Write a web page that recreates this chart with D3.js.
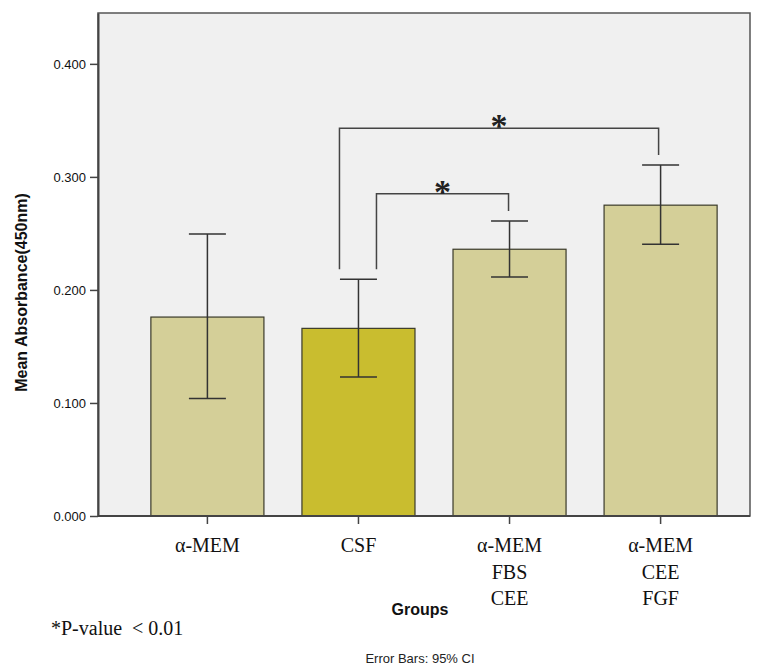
<!DOCTYPE html>
<html>
<head>
<meta charset="utf-8">
<script src="https://cdn.jsdelivr.net/npm/d3@7"></script>
<style>
  body { margin: 0; background: #fff; }
  svg { display: block; }
</style>
</head>
<body>
<svg id="chart"></svg>
<script>
// values
const groups = ['a-MEM', 'CSF', 'a-MEM FBS CEE', 'a-MEM CEE FGF']
const groupLabels = [['α-MEM'], ['CSF'], ['α-MEM', 'FBS', 'CEE'], ['α-MEM', 'CEE', 'FGF']]
const means = [0.176, 0.166, 0.236, 0.275]
const ciLow = [0.104, 0.123, 0.2115, 0.2405]
const ciHigh = [0.2495, 0.2095, 0.261, 0.3105]
const yTicks = [0, 0.1, 0.2, 0.3, 0.4]
// significance brackets: [from group, to group, bracket level]
const brackets = [
  ['CSF', 'a-MEM CEE FGF', 0.343],
  ['CSF', 'a-MEM FBS CEE', 0.285],
]

const W = 758, H = 665
const margin = { top: 13, right: 8, bottom: 149, left: 98 }
const width = W - margin.left - margin.right
const height = H - margin.top - margin.bottom

const svg = d3.select('#chart').attr('width', W).attr('height', H)

const g = svg.append('g')
  .attr('transform', 'translate(' + margin.left + ',' + margin.top + ')')

const x = d3.scaleBand()
  .domain(groups)
  .range([34, 638])
  .paddingInner(0.2517)
  .paddingOuter(0.125)

const y = d3.scaleLinear().domain([0, 0.445]).range([height, 0])

// plot background + frame
g.append('rect')
  .attr('width', width)
  .attr('height', height)
  .attr('fill', '#f0f0f0')
  .attr('stroke', '#555')
  .attr('stroke-width', 1.5)

// bars
g.selectAll('.bar')
  .data(groups)
  .enter()
  .append('rect')
  .attr('class', 'bar')
  .attr('x', (d) => x(d))
  .attr('width', x.bandwidth())
  .attr('y', (d, i) => y(means[i]))
  .attr('height', (d, i) => height - y(means[i]))
  .attr('fill', (d) => (d === 'CSF' ? '#c9bd2f' : '#d4cf98'))
  .attr('stroke', '#3a3a2a')
  .attr('stroke-width', 1.2)

// error bars
const cx = (d) => x(d) + x.bandwidth() / 2
const cap = 18.5
const err = g.append('g').attr('stroke', '#333').attr('stroke-width', 1.5)
groups.forEach((d, i) => {
  err.append('line')
    .attr('x1', cx(d)).attr('x2', cx(d))
    .attr('y1', y(ciLow[i])).attr('y2', y(ciHigh[i]))
  err.append('line')
    .attr('x1', cx(d) - cap).attr('x2', cx(d) + cap)
    .attr('y1', y(ciLow[i])).attr('y2', y(ciLow[i]))
  err.append('line')
    .attr('x1', cx(d) - cap).attr('x2', cx(d) + cap)
    .attr('y1', y(ciHigh[i])).attr('y2', y(ciHigh[i]))
})

// significance brackets
brackets.forEach((b, k) => {
  const i0 = groups.indexOf(b[0]), i1 = groups.indexOf(b[1])
  const x0 = cx(b[0]) + (k === 0 ? -19 : 18)
  const x1 = cx(b[1]) - (k === 0 ? 2 : 1)
  const yb = y(b[2])
  const y0 = y(ciHigh[i0]) - 10
  const y1 = y(ciHigh[i1]) - 10
  g.append('path')
    .attr('d', `M${x0},${y0}V${yb}H${x1}V${y1}`)
    .attr('fill', 'none')
    .attr('stroke', '#444')
    .attr('stroke-width', 1.5)
  g.append('text')
    .attr('x', (x0 + x1) / 2)
    .attr('y', yb + 9)
    .attr('text-anchor', 'middle')
    .style('font-family', '"Liberation Serif", "Times New Roman", serif')
    .style('font-size', '34px')
    .style('font-weight', 'bold')
    .attr('fill', '#222')
    .text('*')
})

// axes
const yAxis = d3.axisLeft(y).tickValues(yTicks).tickFormat(d3.format('.3f')).tickSize(8).tickSizeOuter(0)
const yG = g.append('g').call(yAxis)
yG.select('.domain').attr('stroke', '#444').attr('stroke-width', 2)
yG.selectAll('.tick line').attr('stroke', '#444').attr('stroke-width', 1.5)
yG.selectAll('.tick text')
  .attr('x', -12)
  .style('font-family', '"Liberation Sans", Arial, sans-serif')
  .style('font-size', '13px')
  .attr('fill', '#111')

const xAxis = d3.axisBottom(x).tickSize(8).tickSizeOuter(0).tickFormat('')
const xG = g.append('g').attr('transform', `translate(0,${height})`).call(xAxis)
xG.select('.domain').attr('d', `M0,0H${width}`).attr('stroke', '#444').attr('stroke-width', 2)
xG.selectAll('.tick line').attr('stroke', '#444').attr('stroke-width', 1.5)
xG.selectAll('.tick')
  .append('text')
  .attr('fill', '#111')
  .attr('text-anchor', 'middle')
  .style('font-family', '"Liberation Serif", "Times New Roman", serif')
  .style('font-size', '20px')
  .each(function (d, i) {
    const t = d3.select(this)
    groupLabels[i].forEach((line, j) => {
      t.append('tspan').attr('x', 0).attr('y', 36 + j * 26.5).text(line)
    })
  })

// titles
svg.append('text')
  .attr('transform', `translate(27,${margin.top + height / 2 + 28}) rotate(-90)`)
  .attr('text-anchor', 'middle')
  .style('font-family', '"Liberation Sans", Arial, sans-serif')
  .style('font-size', '16px')
  .style('font-weight', 'bold')
  .attr('fill', '#111')
  .text('Mean Absorbance(450nm)')

svg.append('text')
  .attr('x', 420)
  .attr('y', 615)
  .attr('text-anchor', 'middle')
  .style('font-family', '"Liberation Sans", Arial, sans-serif')
  .style('font-size', '16px')
  .style('font-weight', 'bold')
  .attr('fill', '#111')
  .text('Groups')

svg.append('text')
  .attr('x', 51)
  .attr('y', 635)
  .style('font-family', '"Liberation Serif", "Times New Roman", serif')
  .style('font-size', '20px')
  .attr('fill', '#111')
  .attr('xml:space', 'preserve')
  .text('*P-value  < 0.01')

svg.append('text')
  .attr('x', 420)
  .attr('y', 663)
  .attr('text-anchor', 'middle')
  .style('font-family', '"Liberation Sans", Arial, sans-serif')
  .style('font-size', '13px')
  .attr('fill', '#222')
  .text('Error Bars: 95% CI')
</script>
</body>
</html>
